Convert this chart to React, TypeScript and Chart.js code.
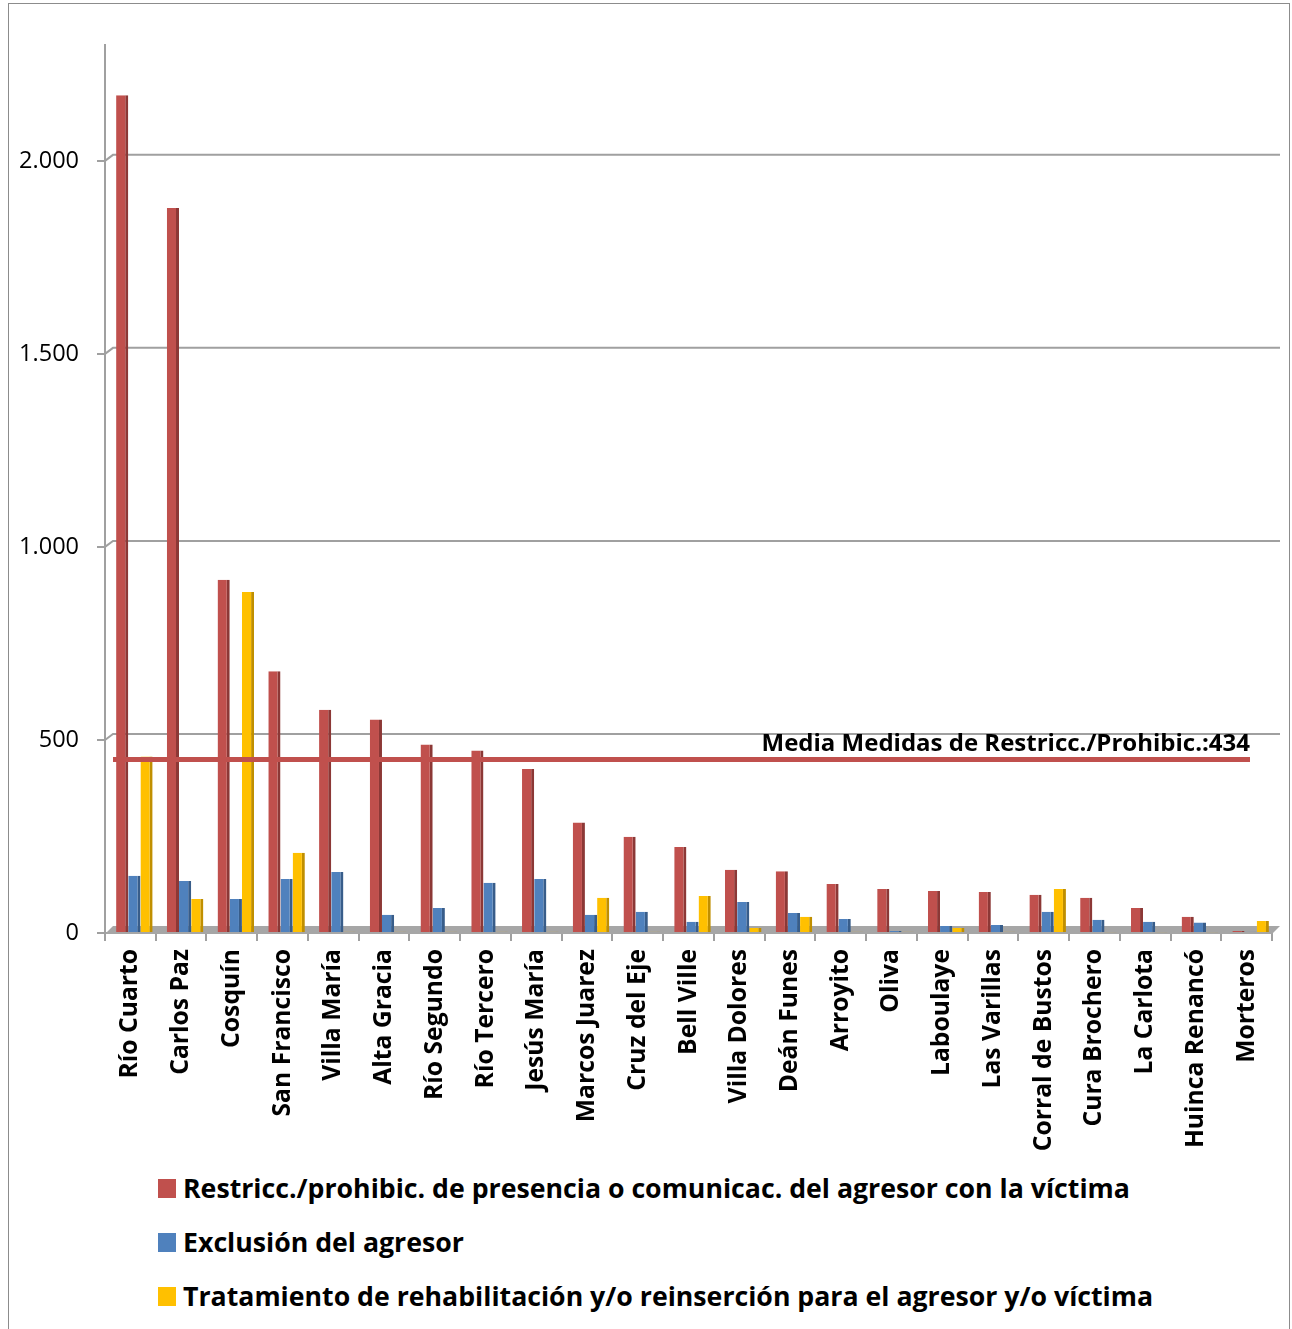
import React, { useEffect, useRef } from "react";
import { Chart, registerables } from "chart.js";

Chart.register(...registerables);

const categories = [
  "Río Cuarto", "Carlos Paz", "Cosquín", "San Francisco", "Villa María", "Alta Gracia",
  "Río Segundo", "Río Tercero", "Jesús María", "Marcos Juarez", "Cruz del Eje", "Bell Ville",
  "Villa Dolores", "Deán Funes", "Arroyito", "Oliva", "Laboulaye", "Las Varillas",
  "Corral de Bustos", "Cura Brochero", "La Carlota", "Huinca Renancó", "Morteros",
];

const restriccion = [2170, 1878, 915, 678, 578, 553, 488, 473, 425, 286, 249, 223, 164, 160, 127, 114, 109, 106, 99, 91, 65, 42, 5];
const exclusion = [148, 135, 88, 140, 158, 47, 65, 130, 140, 47, 55, 29, 80, 52, 36, 5, 18, 21, 55, 34, 29, 27, 3];
const tratamiento = [457, 88, 883, 208, 3, 3, 3, 3, 3, 91, 3, 96, 13, 42, 3, 3, 13, 3, 114, 2, 2, 2, 31];

const seriesLabels = [
  "Restricc./prohibic. de presencia o comunicac. del agresor con la víctima",
  "Exclusión del agresor",
  "Tratamiento de rehabilitación y/o reinserción para el agresor y/o víctima",
];

const yTickValues = [0, 500, 1000, 1500, 2000];
const mediaValue = 434;
const mediaLabel = "Media Medidas de Restricc./Prohibic.:434";

const colors = ["#C0504D", "#4F81BD", "#FFC000"];
const sideColors = ["#8C3836", "#385D8A", "#C08F00"];

const fmt = (v: number) => String(v).replace(/\B(?=(\d{3})+(?!\d))/g, ".");

const DEPTH_X = 8;
const DEPTH_Y = 6;

const overlayPlugin = {
  id: "overlay",
  beforeDatasetsDraw(chart: any) {
    const { ctx, chartArea } = chart;
    const ys = chart.scales.y;
    const y0 = ys.getPixelForValue(0);
    ctx.save();
    ctx.strokeStyle = "#A0A0A0";
    ctx.lineWidth = 2;
    yTickValues.forEach((v) => {
      if (v === 0) return;
      const y = ys.getPixelForValue(v);
      ctx.beginPath();
      ctx.moveTo(chartArea.left, y);
      ctx.lineTo(chartArea.left + DEPTH_X, y - DEPTH_Y);
      ctx.lineTo(chartArea.right + DEPTH_X, y - DEPTH_Y);
      ctx.stroke();
    });
    ctx.fillStyle = "#A6A6A6";
    ctx.beginPath();
    ctx.moveTo(chartArea.left, y0 + 1);
    ctx.lineTo(chartArea.left + DEPTH_X, y0 - DEPTH_Y - 1);
    ctx.lineTo(chartArea.right + DEPTH_X, y0 - DEPTH_Y - 1);
    ctx.lineTo(chartArea.right, y0 + 1);
    ctx.closePath();
    ctx.fill();
    ctx.restore();
    // shift bars slightly right to mimic the 3D projection of the original
    ctx.save();
    ctx.translate(DEPTH_X / 2, 0);
  },
  afterDatasetsDraw(chart: any) {
    const { ctx, chartArea } = chart;
    ctx.restore();
    const ym = chart.scales.y.getPixelForValue(mediaValue) - DEPTH_Y;
    const x0 = chartArea.left + DEPTH_X;
    const x1 = chartArea.right - 22;
    ctx.save();
    ctx.strokeStyle = "#C0504D";
    ctx.lineWidth = 5;
    ctx.beginPath();
    ctx.moveTo(x0, ym);
    ctx.lineTo(x1, ym);
    ctx.stroke();
    ctx.fillStyle = "#000";
    ctx.font = "bold 24px 'Open Sans'";
    ctx.textAlign = "right";
    ctx.textBaseline = "alphabetic";
    ctx.fillText(mediaLabel, x1, ym - 8);
    ctx.restore();
  },
};

export default function App() {
  const ref = useRef<HTMLCanvasElement | null>(null);

  useEffect(() => {
    if (!ref.current) return;
    const series = [restriccion, exclusion, tratamiento];
    const chart = new Chart(ref.current, {
      type: "bar",
      data: {
        labels: categories,
        datasets: series.map((d, i) => ({
          label: seriesLabels[i],
          data: d,
          backgroundColor: colors[i],
          borderColor: sideColors[i],
          borderWidth: { top: 0, left: 0, bottom: 0, right: 3 },
          borderSkipped: false,
          categoryPercentage: 0.72,
          barPercentage: 1.0,
        })),
      },
      options: {
        responsive: false,
        animation: false,
        layout: { padding: { left: 0, right: 20, top: 45, bottom: 0 } },
        plugins: {
          legend: { display: false },
          tooltip: { enabled: false },
        },
        scales: {
          x: {
            grid: {
              display: true,
              drawOnChartArea: false,
              drawTicks: true,
              tickLength: 8,
              color: "#A0A0A0",
              lineWidth: 2,
            },
            border: { display: true, color: "#A0A0A0", width: 2 },
            ticks: {
              autoSkip: false,
              maxRotation: 90,
              minRotation: 90,
              padding: 8,
              color: "#000",
              font: { family: "'Open Sans'", size: 24.7, weight: "bold" },
            },
            afterFit: (scale: any) => {
              scale.height = 227;
            },
          },
          y: {
            min: 0,
            max: 2300,
            afterBuildTicks: (scale: any) => {
              scale.ticks = yTickValues.map((v) => ({ value: v }));
            },
            grid: {
              drawOnChartArea: false,
              color: "#A0A0A0",
              lineWidth: 2,
              tickLength: 8,
            },
            border: { display: true, color: "#A0A0A0", width: 2 },
            ticks: {
              padding: 18,
              color: "#000",
              font: { family: "'Open Sans'", size: 23.5 },
              callback: (v: any) => fmt(Number(v)),
            },
            afterFit: (scale: any) => {
              scale.width = 105;
            },
          },
        },
      },
      plugins: [overlayPlugin],
    } as any);
    return () => chart.destroy();
  }, []);

  return (
    <div style={{ position: "absolute", left: 0, top: 0, width: 1292, height: 1329, overflow: "hidden", background: "#fff" }}>
      <div
        style={{
          position: "absolute",
          left: 8,
          top: 3,
          width: 1282,
          height: 1340,
          border: "1px solid #8C8C8C",
          boxSizing: "border-box",
          pointerEvents: "none",
        }}
      />
      <canvas ref={ref} width={1292} height={1160} style={{ position: "absolute", left: 0, top: 0 }} />
      <div style={{ position: "absolute", left: 158, top: 1161 }}>
        {seriesLabels.map((lab, i) => (
          <div key={lab} style={{ display: "flex", alignItems: "center", height: 54 }}>
            <span style={{ display: "inline-block", width: 18, height: 19, background: colors[i], marginRight: 7, flex: "none" }} />
            <span style={{ fontFamily: "'Open Sans'", fontWeight: "bold", fontSize: 26.7, color: "#000", whiteSpace: "nowrap", lineHeight: "54px" }}>
              {lab}
            </span>
          </div>
        ))}
      </div>
    </div>
  );
}
